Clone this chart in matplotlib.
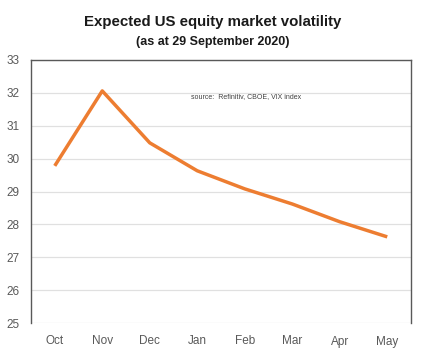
import matplotlib
matplotlib.use('Agg')
import matplotlib.pyplot as plt
import numpy as np

plt.rcParams['font.family'] = ['Liberation Sans', 'DejaVu Sans']

months = ['Oct', 'Nov', 'Dec', 'Jan', 'Feb', 'Mar', 'Apr', 'May']
vix = [29.78, 32.06, 30.48, 29.63, 29.08, 28.62, 28.08, 27.62]

fig = plt.figure(figsize=(4.25, 3.56), dpi=100)
ax = fig.add_axes([31 / 425, 1 - 323 / 356, 380 / 425, 263 / 356])

x = np.arange(len(months))
ax.plot(x, vix, color='#ed7d31', lw=2.5, solid_capstyle='butt', zorder=3)

ax.set_xlim(-0.5, len(months) - 0.5)
ax.set_ylim(25, 33)
ax.set_yticks(range(25, 34))
ax.set_xticks(x)
ax.set_xticklabels(months)
ax.tick_params(length=0, labelsize=8.5, labelcolor='#595959')
ax.tick_params(axis='x', pad=9)
ax.tick_params(axis='y', pad=8)
ax.grid(axis='y', color='#e0e0e0', lw=0.9)
ax.set_axisbelow(True)
for s in ['left', 'right', 'top']:
    ax.spines[s].set_color('#595959')
    ax.spines[s].set_linewidth(1.0)
ax.spines['bottom'].set_visible(False)

ax.text(0.42, 0.86, 'source:  Refinitiv, CBOE, VIX index', transform=ax.transAxes,
        fontsize=5, color='#404040', ha='left', va='center')

fig.text(0.5, 1 - 22 / 356, 'Expected US equity market volatility', ha='center', va='center',
         fontsize=10.8, fontweight='bold', color='#1a1a1a')
fig.text(0.5, 1 - 42 / 356, '(as at 29 September 2020)', ha='center', va='center',
         fontsize=9, fontweight='bold', color='#1a1a1a')

fig.savefig('out.png', dpi=100)
